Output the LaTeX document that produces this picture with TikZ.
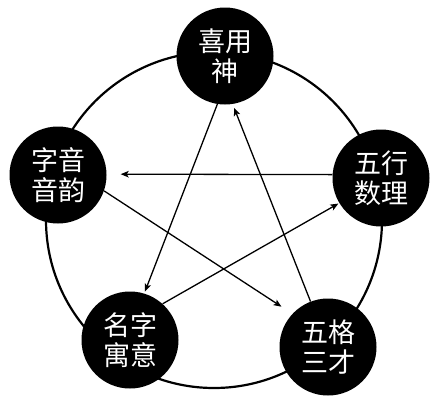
\documentclass[tikz,border=0pt]{standalone}
\usepackage{fontspec}
\newfontfamily\cjk{Noto Sans CJK SC}
\usetikzlibrary{arrows.meta}
\begin{document}
\begin{tikzpicture}[x=1pt,y=-1pt,
  bubble/.style={circle,fill=black,minimum size=97pt,inner sep=0pt,text=white,align=center,font=\cjk\fontsize{27}{30}\selectfont},
  link/.style={line width=1.3pt,-{Stealth[length=8pt,width=6.5pt,inset=2pt]}},
  ring/.style={line width=2.2pt}]
\useasboundingbox (0,0) rectangle (445,400);
\fill[white] (0,0) rectangle (445,400);
\draw[ring] (214,220) circle[radius=168pt];
\node[bubble] (T) at (225,56) {喜用\\神};
\node[bubble] (R) at (381,178) {五行\\数理};
\node[bubble] (B) at (328,347) {五格\\三才};
\node[bubble] (M) at (130,340) {名字\\寓意};
\node[bubble] (L) at (58,175) {字音\\音韵};
\draw[link,shorten >=2pt] (T.261) -- (M.73);
\draw[link,shorten >=4pt] (B.111) -- (T.279);
\draw[link,shorten >=14pt] (R.176) -- (L.1);
\draw[link,shorten >=13pt] (L.341) -- (B.137);
\draw[link,shorten >=1pt] (M.48) -- (R.211);
\end{tikzpicture}
\end{document}
